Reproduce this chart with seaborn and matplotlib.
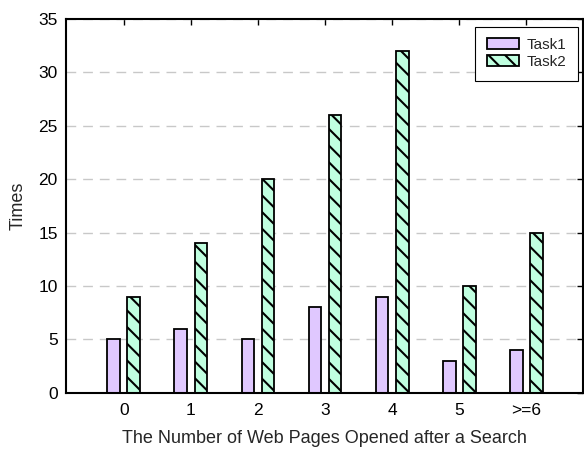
import matplotlib
matplotlib.use("Agg")
import matplotlib.pyplot as plt
import seaborn as sns
import pandas as pd

categories = ["0", "1", "2", "3", "4", "5", ">=6"]
task1 = [5, 6, 5, 8, 9, 3, 4]
task2 = [9, 14, 20, 26, 32, 10, 15]
series = ["Task1", "Task2"]

df = pd.DataFrame({
    "pages": categories * 2,
    "times": task1 + task2,
    "task": [series[0]] * len(categories) + [series[1]] * len(categories),
})

sns.set_style("white")
plt.rcParams["font.family"] = ["Liberation Sans", "DejaVu Sans"]
plt.rcParams["hatch.linewidth"] = 1.5

fig = plt.figure(figsize=(5.84, 4.5), dpi=100)
ax = fig.add_axes([0.113, 0.127, 0.886, 0.831])

colors = ["#e0c8ff", "#c0ffe0"]
sns.barplot(data=df, x="pages", y="times", hue="task", order=categories,
            hue_order=series, palette=colors, width=0.6, gap=0.37,
            edgecolor="black", linewidth=1.3, saturation=1, legend=False, ax=ax)

for cont, hatch in zip(ax.containers, ["", "\\\\"]):
    for p in cont:
        p.set_hatch(hatch)
        p.set_edgecolor("black")

ax.legend(ax.containers, series, loc="upper right", bbox_to_anchor=(0.989, 0.979),
          frameon=True, fancybox=False, edgecolor="black", framealpha=1,
          fontsize=11, handlelength=2.1, handleheight=0.72, borderpad=0.75,
          labelspacing=0.2, handletextpad=0.5, borderaxespad=0)
ax.get_legend().get_frame().set_linewidth(0.8)

ax.set_ylim(0, 35)
ax.set_xlim(-0.86, 6.85)
ax.set_yticks(range(0, 36, 5))
ax.set_axisbelow(True)
ax.yaxis.grid(True, linestyle=(0, (7, 5)), color="#c8c8c8", linewidth=1)
ax.xaxis.grid(False)

for s in ax.spines.values():
    s.set_visible(True)
    s.set_color("black")
    s.set_linewidth(1.5)

ax.tick_params(direction="in", top=True, right=True, length=4, width=1,
               labelsize=12.5, colors="black", pad=6)
ax.tick_params(axis="x", pad=7)
ax.set_xlabel("The Number of Web Pages Opened after a Search", fontsize=13, labelpad=9)
ax.set_ylabel("Times", fontsize=13, labelpad=8)

fig.savefig("out.png", dpi=100)
